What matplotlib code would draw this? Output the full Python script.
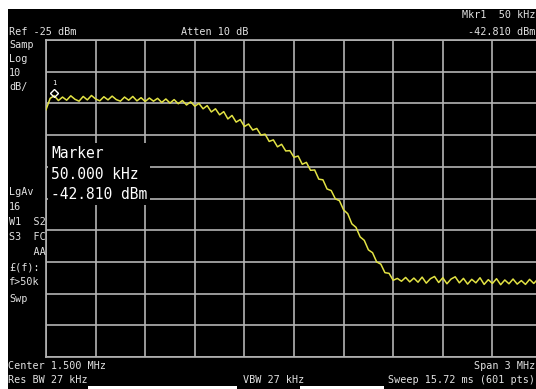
#!/usr/bin/env python3
"""Spectrum analyzer screen: low-pass response, 0-3 MHz sweep."""

import matplotlib

matplotlib.use("Agg")
import matplotlib.pyplot as plt
import numpy as np
from matplotlib.patches import Rectangle

# sweep: 121 readings, 25 kHz apart, 0 .. 3 MHz
freq_mhz = np.linspace(0.0, 3.0, 121)
level_dbm = [
    -47.0, -43.4, -42.6, -44.1, -43.0, -44.0, -42.6, -43.7, -44.3, -42.8,
    -43.9, -42.5, -43.6, -44.2, -42.9, -43.9, -42.7, -43.8, -44.3, -43.0,
    -44.0, -42.8, -44.2, -43.2, -44.4, -43.3, -44.3, -43.4, -44.7, -43.6,
    -44.9, -43.8, -45.1, -44.1, -45.5, -44.5, -45.9, -45.0, -46.7, -45.7,
    -47.7, -46.7, -48.6, -47.6, -49.9, -48.8, -50.9, -50.1, -52.3, -51.5,
    -53.4, -52.9, -55.0, -54.7, -57.0, -56.5, -58.7, -57.9, -60.0, -59.9,
    -62.0, -61.6, -64.2, -63.6, -66.1, -66.0, -68.9, -69.1, -72.0, -72.5,
    -75.1, -75.7, -78.6, -79.8, -83.0, -84.1, -87.1, -88.2, -91.2, -92.1,
    -95.0, -95.7, -98.4, -98.6, -100.8, -100.2, -101.1, -99.9, -101.3, -100.1,
    -101.4, -99.8, -101.7, -100.3, -99.6, -101.5, -100.0, -101.9, -100.4, -99.7,
    -101.6, -100.2, -102.0, -100.5, -101.6, -100.0, -102.1, -100.6, -101.8, -100.3,
    -102.2, -100.7, -101.9, -100.4, -102.0, -100.9, -102.1, -100.5, -101.8, -100.4,
    -101.5,
]

ref_level = -25.0
db_per_div = 10.0
marker_freq = 0.05
marker_level = -42.81

left_labels = [
    ("Samp", 45), ("Log", 59), ("10", 73), ("dB/", 87),
    ("LgAv", 192), ("16", 207), ("W1  S2", 222), ("S3  FC", 237),
    ("    AA", 252), ("£(f):", 267), ("f>50k", 282), ("Swp", 299),
]
# (text, x, y, horizontal alignment)
header_labels = [
    ("Ref -25 dBm", 9, 32, "left"), ("Atten 10 dB", 181, 32, "left"),
    ("Mkr1  50 kHz", 535, 15, "right"), ("-42.810 dBm", 535, 32, "right"),
    ("Center 1.500 MHz", 8, 366, "left"), ("Span 3 MHz", 535, 366, "right"),
    ("Res BW 27 kHz", 8, 380, "left"), ("VBW 27 kHz", 243, 380, "left"),
    ("Sweep 15.72 ms (601 pts)", 535, 380, "right"),
]

W, H = 536, 389
TEXT = "#e2e2e2"
GRID = "#b4b4b4"
MONO = "DejaVu Sans Mono"


def fpos(x, y):
    return x / W, 1 - y / H


fig = plt.figure(figsize=(W / 100, H / 100), dpi=100, facecolor="black")

# white margins of the screenshot
for x0, y0, w, h in [(0, 0, W, 9), (0, 0, 8, H), (88, 386, 149, 3), (300, 386, 84, 3)]:
    fig.patches.append(Rectangle((x0 / W, 1 - (y0 + h) / H), w / W, h / H,
                                 transform=fig.transFigure, facecolor="white",
                                 edgecolor="none", zorder=5))

ax = fig.add_axes([46 / W, 32 / H, 496 / W, 317 / H], facecolor="black")
ax.set_xlim(0, 3.0)
ax.set_ylim(ref_level - 10 * db_per_div, ref_level)
ax.set_xticks(np.linspace(0, 3.0, 11))
ax.set_yticks(np.linspace(ref_level - 10 * db_per_div, ref_level, 11))
ax.tick_params(length=0, labelbottom=False, labelleft=False)
ax.grid(True, color=GRID, linewidth=1.2)
ax.set_axisbelow(True)
for spine in ax.spines.values():
    spine.set_color(GRID)
    spine.set_linewidth(1.2)

ax.plot(freq_mhz, level_dbm, color="#e2e244", linewidth=1.1, zorder=3)
ax.plot([marker_freq], [marker_level + 1.2], marker="D", markersize=4,
        markerfacecolor="none", markeredgecolor="white", markeredgewidth=1.0, zorder=4)
ax.annotate("1", (marker_freq, marker_level + 1.2), xytext=(0, 7),
            textcoords="offset points", ha="center", va="center",
            color="white", fontsize=5, family=MONO)

ax.text(0.01, 0.577, "Marker\n50.000 kHz\n-42.810 dBm", transform=ax.transAxes,
        color="white", fontsize=10.5, family=MONO, va="center", ha="left",
        linespacing=1.45, zorder=6,
        bbox={"facecolor": "black", "edgecolor": "none", "pad": 2})

for label, y in left_labels:
    fig.text(*fpos(9, y), label, color=TEXT, fontsize=7.3, family=MONO,
             va="center", ha="left")
for label, x, y, ha in header_labels:
    fig.text(*fpos(x, y), label, color=TEXT, fontsize=7.3, family=MONO,
             va="center", ha=ha)

fig.savefig("out.png", dpi=100, facecolor="black")
